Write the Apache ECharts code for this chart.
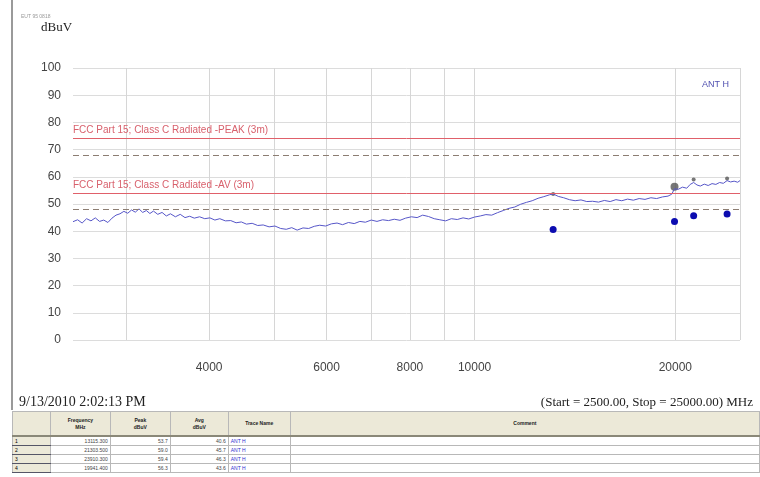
<!DOCTYPE html>
<html>
<head>
<meta charset="utf-8">
<script src="https://cdn.jsdelivr.net/npm/echarts@6/dist/echarts.min.js"></script>
<style>
  body { margin: 0; background: #fff; width: 760px; height: 477px; overflow: hidden; position: relative; font-family: "Liberation Sans", Arial, sans-serif; }
  #frame { position: absolute; left: 11px; top: 0; width: 2px; height: 410px; background: #9a9a9a; }
  #container { position: absolute; left: 0; top: 0; width: 760px; height: 410px; }
  #tbl { position: absolute; left: 12px; top: 411px; border-collapse: collapse; table-layout: fixed; font-size: 5px; }
  #tbl td, #tbl th { border: 1px solid #b8b8b8; padding: 0 2px; height: 8px; line-height: 8px; overflow: hidden; white-space: nowrap; }
  #tbl th { background: #ece9d8; height: 23px; line-height: 7px; font-weight: bold; color: #222; border-bottom: 2px solid #8a8878; }
  #tbl td.idx { background: #ece9d8; text-align: left; border-bottom: 1px solid #556; }
  #tbl td.num { text-align: right; color: #444; }
  #tbl td.ant { color: #3030d0; }
</style>
</head>
<body>
<div id="frame"></div>
<div id="container"></div>
<table id="tbl"></table>
<script>
// measured trace (ANT H), frequency in MHz and level in dBuV
var traceFreq = [2500, 2540, 2580, 2620, 2660, 2700, 2740, 2780, 2820, 2860, 2900, 2940, 2980, 3020, 3060, 3100, 3140, 3180, 3220, 3260,
  3300, 3350, 3400, 3450, 3500, 3560, 3620, 3680, 3740, 3800, 3870, 3940, 4010, 4080, 4150, 4230, 4310, 4390, 4470, 4550,
  4640, 4730, 4820, 4920, 5020, 5120, 5220, 5320, 5420, 5530, 5640, 5750, 5860, 5980, 6100, 6220, 6340, 6470, 6600, 6730,
  6860, 7000, 7140, 7280, 7430, 7580, 7730, 7880, 8040, 8200, 8360, 8530, 8700, 8870, 9050, 9230, 9420, 9610, 9800, 10000,
  10200, 10400, 10610, 10820, 11040, 11260, 11490, 11720, 11960, 12200, 12450, 12700, 12960, 13115, 13350, 13600, 13870, 14150, 14440, 14730,
  15030, 15340, 15650, 15970, 16290, 16620, 16960, 17300, 17650, 18010, 18380, 18750, 19130, 19500, 19750, 19941, 20200, 20500, 20800, 21050,
  21303, 21550, 21800, 22100, 22400, 22700, 23000, 23300, 23600, 23910, 24200, 24500, 24800, 25000];
var traceLevel = [43.5, 44.2, 43.0, 44.6, 43.8, 44.9, 43.6, 44.1, 43.2, 44.8, 45.9, 46.4, 47.3, 46.6, 47.8, 47.0, 48.2, 46.9, 47.6, 46.5,
  47.4, 46.2, 46.9, 45.6, 46.4, 45.3, 46.2, 45.0, 45.5, 44.8, 45.3, 44.6, 44.9, 44.1, 44.6, 43.8, 43.9, 43.1, 43.4, 42.6,
  42.9, 42.1, 42.3, 41.6, 41.9, 41.0, 40.7, 41.3, 40.4, 41.2, 41.0, 41.8, 42.2, 41.9, 42.7, 43.0, 42.4, 43.2, 42.8, 43.6,
  43.3, 44.1, 43.6, 44.2, 43.9, 44.4, 44.0, 44.8, 45.3, 45.0, 45.9, 45.4, 44.6, 44.2, 43.8, 44.6, 44.3, 44.9, 44.5, 45.2,
  45.6, 46.1, 45.9, 46.8, 47.6, 48.4, 48.9, 49.9, 50.6, 51.2, 52.1, 52.7, 53.4, 53.7, 52.8, 52.3, 51.6, 51.2, 51.5, 50.9,
  51.0, 50.7, 51.3, 50.9, 51.6, 51.2, 51.8, 51.4, 52.0, 51.7, 52.3, 52.0, 52.6, 52.9, 53.6, 55.6, 55.4, 56.2, 55.8, 57.2,
  57.9, 57.0, 56.6, 57.3, 56.8, 57.5, 57.2, 57.9, 57.6, 58.6, 58.1, 58.4, 58.0, 58.6];

// marker table
var markFreq = [13115.3, 21303.5, 23910.3, 19941.4];
var markPeak = [53.7, 59.0, 59.4, 56.3];
var markAvg = [40.6, 45.7, 46.3, 43.6];
var markTrace = ['ANT H', 'ANT H', 'ANT H', 'ANT H'];

// limits
var limitPeak = 74, limitPeakMargin = 68;
var limitAvg = 54, limitAvgMargin = 48;

var gridFreq = [3000, 4000, 5000, 6000, 7000, 8000, 9000, 10000, 20000, 25000];
var labelFreq = [4000, 6000, 8000, 10000, 20000];

var traceData = traceFreq.map(function (f, i) { return [f, traceLevel[i]]; });
var avgData = markFreq.map(function (f, i) { return [f, markAvg[i]]; });
var peakData = markFreq.map(function (f, i) { return [f, markPeak[i]]; });

var chartDom = document.getElementById('container');
var myChart = echarts.init(chartDom);
var red = '#e0606a';
var dash = '#8c7d72';

var option = {
  animation: false,
  grid: { left: 73, right: 20, top: 68, bottom: 70 },
  title: [
    { text: 'EUT 95 0818', left: 16, top: 9, textStyle: { fontSize: 5, color: '#999', fontWeight: 'normal' } },
    { text: 'dBuV', left: 36, top: 16, textStyle: { fontSize: 13, color: '#222', fontWeight: 'normal', fontFamily: 'Liberation Serif' } },
    { text: 'ANT H', right: 26, top: 75, textStyle: { fontSize: 9, color: '#5050b0', fontWeight: 'normal' } },
    { text: '9/13/2010 2:02:13 PM', left: 14, top: 390, textStyle: { fontSize: 14, color: '#222', fontWeight: 'normal', fontFamily: 'Liberation Serif' } },
    { text: '(Start = 2500.00, Stop = 25000.00) MHz', right: 2, top: 391, textStyle: { fontSize: 13, color: '#222', fontWeight: 'normal', fontFamily: 'Liberation Serif' } }
  ],
  xAxis: {
    type: 'log',
    logBase: 10,
    min: 2500,
    max: 25000,
    axisLine: { show: false },
    axisTick: { show: false, customValues: gridFreq },
    axisLabel: { customValues: labelFreq, margin: 22, fontSize: 12, color: '#444', formatter: function (v) { return String(Math.round(v)); } },
    splitLine: { show: true, lineStyle: { color: '#d6d6d6', width: 1 } },
    minorSplitLine: { show: false }
  },
  yAxis: {
    type: 'value',
    min: 0,
    max: 100,
    interval: 10,
    axisLine: { show: false },
    axisTick: { show: false },
    axisLabel: { margin: 12, fontSize: 12, color: '#444' },
    splitLine: { lineStyle: { color: '#dcdcdc', width: 1 } }
  },
  series: [
    {
      name: 'ANT H',
      type: 'line',
      data: traceData,
      showSymbol: false,
      lineStyle: { color: '#5656c8', width: 1 },
      markLine: {
        silent: true,
        symbol: ['none', 'none'],
        data: [
          { yAxis: limitPeak, lineStyle: { color: red, type: 'solid', width: 1 },
            label: { show: true, position: 'insideStartTop', formatter: 'FCC Part 15; Class C Radiated -PEAK (3m)', color: '#d8606c', fontSize: 10, distance: [0, 3] } },
          { yAxis: limitPeakMargin, lineStyle: { color: dash, type: [6, 4], width: 1 }, label: { show: false } },
          { yAxis: limitAvg, lineStyle: { color: red, type: 'solid', width: 1 },
            label: { show: true, position: 'insideStartTop', formatter: 'FCC Part 15; Class C Radiated -AV (3m)', color: '#d8606c', fontSize: 10, distance: [0, 3] } },
          { yAxis: limitAvgMargin, lineStyle: { color: dash, type: [6, 4], width: 1 }, label: { show: false } }
        ]
      }
    },
    {
      name: 'Peak',
      type: 'scatter',
      data: peakData,
      symbol: 'circle',
      symbolSize: function (v) { return v[0] > 19900 && v[0] < 20000 ? 8 : 4; },
      itemStyle: { color: '#555' }
    },
    {
      name: 'Avg',
      type: 'scatter',
      data: avgData,
      symbol: 'circle',
      symbolSize: 7,
      itemStyle: { color: '#0c0cb0', opacity: 1 }
    }
  ]
};

option && myChart.setOption(option);

// marker table under the chart
var colW = [38, 60, 60, 58, 62, 470];
var html = '<colgroup>' + colW.map(function (w) { return '<col style="width:' + w + 'px">'; }).join('') + '</colgroup>';
html += '<tr><th></th><th>Frequency<br>MHz</th><th>Peak<br>dBuV</th><th>Avg<br>dBuV</th><th>Trace Name</th><th>Comment</th></tr>';
markFreq.forEach(function (f, i) {
  html += '<tr><td class="idx">' + (i + 1) + '</td><td class="num">' + f.toFixed(3) + '</td><td class="num">' +
    markPeak[i].toFixed(1) + '</td><td class="num">' + markAvg[i].toFixed(1) + '</td><td class="ant">' + markTrace[i] + '</td><td></td></tr>';
});
document.getElementById('tbl').innerHTML = html;
</script>
</body>
</html>
